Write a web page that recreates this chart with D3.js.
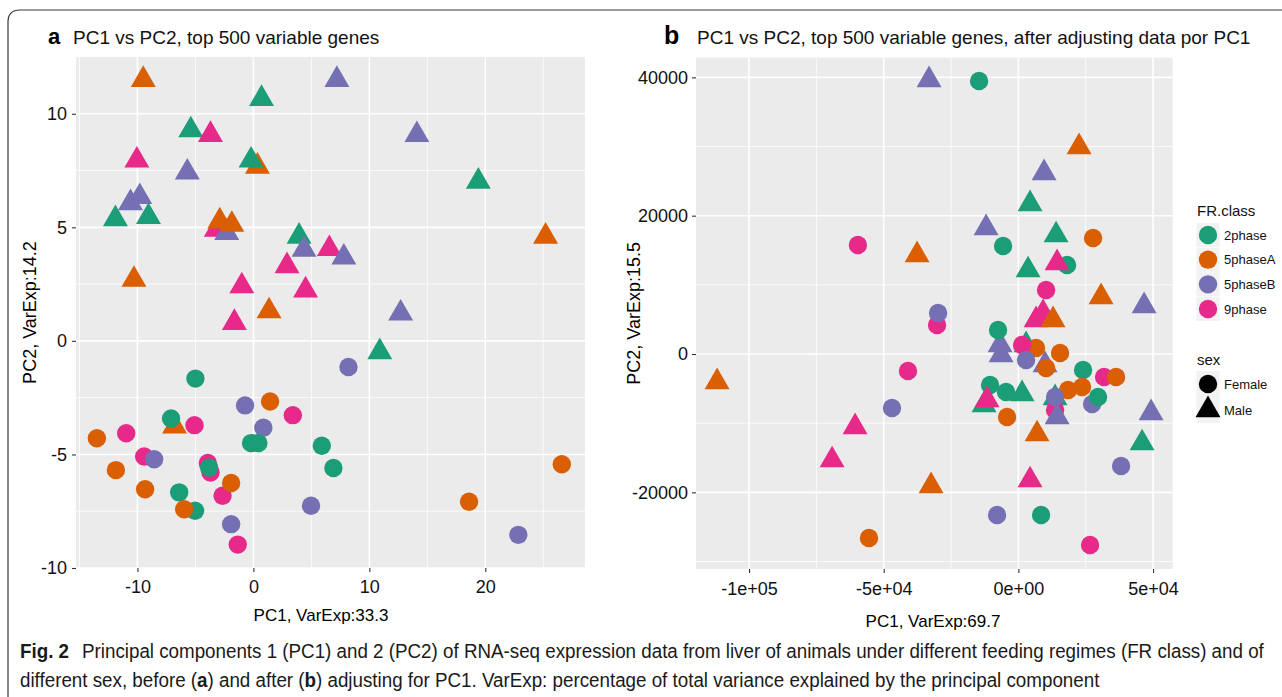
<!DOCTYPE html>
<html><head><meta charset="utf-8">
<script src="https://cdn.jsdelivr.net/npm/d3@7"></script>
<style>
body{margin:0;background:#fff;}
svg{display:block;font-family:"Liberation Sans",Arial,Helvetica,sans-serif;}
</style>
</head><body>
<svg id="c" width="1282" height="697"></svg>
<script>
// ---------- shared categories ----------
const classNames = ["2phase","5phaseA","5phaseB","9phase"];
const classColors = ["#1B9E77","#D95F02","#7570B3","#E7298A"];
const sexNames = ["Female","Male"];

// ---------- panel a : before adjusting ----------
const aTitle = "PC1 vs PC2, top 500 variable genes";
const aXLabel = "PC1, VarExp:33.3";
const aYLabel = "PC2, VarExp:14.2";
const aXDomain = [-15.3, 28.6];
const aYDomain = [-10, 12.5];
const aXTicks = [-10, 0, 10, 20];
const aXTickLabels = ["-10", "0", "10", "20"];
const aXMinor = [-15, -5, 5, 15, 25];
const aYTicks = [-10, -5, 0, 5, 10];
const aYTickLabels = ["-10", "-5", "0", "5", "10"];
const aYMinor = [-7.5, -2.5, 2.5, 7.5];
const aClass = ["5phaseA","5phaseB","2phase","2phase","9phase","5phaseB","9phase","5phaseA","2phase","5phaseB",
  "2phase","5phaseB","5phaseB","2phase","2phase","9phase","5phaseB","5phaseA","5phaseA","5phaseA",
  "2phase","5phaseB","9phase","5phaseB","9phase","5phaseA","9phase","9phase","5phaseA","5phaseB",
  "9phase","2phase","5phaseA",
  "2phase","5phaseB","5phaseB","5phaseA","9phase","2phase","9phase","5phaseB","9phase","5phaseA",
  "2phase","2phase","2phase","9phase","5phaseB","5phaseA","9phase","9phase","2phase","2phase",
  "5phaseA","5phaseA","9phase","5phaseA","2phase","2phase","5phaseA","5phaseA","5phaseB","5phaseB",
  "5phaseB","9phase"];
const aSex = ["Male","Male","Male","Male","Male","Male","Male","Male","Male","Male",
  "Male","Male","Male","Male","Male","Male","Male","Male","Male","Male",
  "Male","Male","Male","Male","Male","Male","Male","Male","Male","Male",
  "Male","Male","Male",
  "Female","Female","Female","Female","Female","Female","Female","Female","Female","Female",
  "Female","Female","Female","Female","Female","Female","Female","Female","Female","Female",
  "Female","Female","Female","Female","Female","Female","Female","Female","Female","Female",
  "Female","Female"];
const aPC1 = [-9.5, 7.2, 0.7, -5.4, -3.7, 14.1, -10.05, 0.35, -0.2, -5.7,
  19.4, -10.6, -9.8, -11.9, -9.05, -3.2, -2.3, -2.9, -1.86, 25.2,
  3.94, 4.37, 6.55, 7.8, 2.9, -10.3, -1.0, 4.5, 1.35, 12.7,
  -1.64, 10.9, -6.8,
  -5.0, 8.2, -0.72, 1.44, 3.4, -7.1, -5.08, 0.86, -10.97, -13.5,
  -0.2, 0.43, 5.9, -9.42, -8.56, -11.86, -3.93, -3.7, -3.82, 6.9,
  26.6, -9.34, -2.66, -1.92, -6.4, -5.03, -5.97, 18.6, 4.97, -1.92,
  22.85, -1.35];
const aPC2 = [11.5, 11.5, 10.66, 9.28, 9.08, 9.07, 7.95, 7.68, 7.95, 7.42,
  7.02, 6.07, 6.34, 5.37, 5.46, 4.9, 4.76, 5.27, 5.12, 4.6,
  4.6, 4.02, 4.05, 3.68, 3.3, 2.7, 2.41, 2.23, 1.31, 1.21,
  0.8, -0.49, -3.76,
  -1.66, -1.15, -2.84, -2.67, -3.27, -3.42, -3.71, -3.82, -4.07, -4.29,
  -4.5, -4.5, -4.62, -5.09, -5.21, -5.69, -5.38, -5.8, -5.58, -5.6,
  -5.43, -6.53, -6.82, -6.26, -6.67, -7.48, -7.41, -7.08, -7.26, -8.07,
  -8.54, -8.97];

// ---------- panel b : after adjusting ----------
const bTitle = "PC1 vs PC2, top 500 variable genes, after adjusting data por PC1";
const bXLabel = "PC1, VarExp:69.7";
const bYLabel = "PC2, VarExp:15.5";
const bXDomain = [-119700, 57300];
const bYDomain = [-31080, 42840];
const bXTicks = [-100000, -50000, 0, 50000];
const bXTickLabels = ["-1e+05", "-5e+04", "0e+00", "5e+04"];
const bXMinor = [-75000, -25000, 25000];
const bYTicks = [-20000, 0, 20000, 40000];
const bYTickLabels = ["-20000", "0", "20000", "40000"];
const bYMinor = [-30000, -10000, 10000, 30000];
const bClass = ["5phaseB","5phaseA","5phaseB","2phase","5phaseB","2phase","5phaseA","2phase","2phase","9phase",
  "5phaseA","5phaseB","9phase","9phase","5phaseA","9phase","2phase","5phaseB","5phaseB","5phaseB",
  "2phase","2phase","5phaseA","5phaseB","2phase","5phaseA","9phase","9phase","5phaseA","9phase",
  "2phase","2phase","9phase","5phaseA","9phase","5phaseB","2phase","5phaseA","9phase","5phaseB",
  "5phaseA","5phaseA","2phase","9phase","5phaseA","2phase","2phase","9phase","2phase","5phaseA",
  "5phaseA","9phase","5phaseB","5phaseB","5phaseB","2phase","5phaseA","5phaseB","9phase","5phaseB",
  "5phaseB","2phase","5phaseA","9phase"];
const bSex = ["Male","Male","Male","Male","Male","Male","Male","Male","Female","Male",
  "Male","Male","Male","Male","Male","Female","Male","Male","Male","Male",
  "Male","Male","Male","Male","Male","Male","Male","Male","Male","Male",
  "Female","Female","Female","Female","Female","Female","Female","Female","Female","Female",
  "Female","Female","Female","Female","Female","Female","Male","Male","Female","Female",
  "Female","Female","Female","Male","Female","Female","Female","Female","Female","Female",
  "Female","Female","Female","Female"];
const bPC1 = [-33160, 22540, 9540, 4340, -11990, 14000, -37610, 3600, 18080, 14370,
  30710, 46680, 6570, 9170, 12880, 10290, 2860, -6800, -6420, 9910,
  1370, 13630, 6940, 49270, 45930, -111870, -60630, -69170, -32420, 4340,
  -14590, -5680, -59590, 27740, -30190, -29810, -7540, 6570, 1370, 2860,
  15480, 10290, 24020, 31820, 36280, -10510, -12740, -11620, -4570, 18450,
  23650, 13630, 13630, 14370, 27370, 29590, -4200, -46930, -40990, 38130,
  -7910, 8430, -55470, 26620];
const bPC2 = [39610, 29930, 26170, 21690, 18220, 17200, 14310, 12140, 12870, 13160,
  8240, 6940, 4920, 5930, 4920, 9250, 1300, 1300, -140, -1590,
  -5780, -6360, -11570, -8530, -12870, -4050, -10550, -15330, -19080, -18220,
  39470, 15610, 15760, 16770, 4190, 5930, 3470, 870, 1300, -870,
  140, -2020, -2310, -3330, -3330, -4480, -7370, -6650, -5490, -5200,
  -4770, -8100, -6220, -9110, -7230, -6220, -9110, -7810, -2460, -16190,
  -23280, -23280, -26600, -27610];

// ---------- caption ----------
const captionLead = "Fig. 2";
const captionLine1 = "Principal components 1 (PC1) and 2 (PC2) of RNA-seq expression data from liver of animals under different feeding regimes (FR class) and of";
const captionLine2 = [["different sex, before (", false], ["a", true], [") and after (", false], ["b", true], [") adjusting for PC1. VarExp: percentage of total variance explained by the principal component", false]];

// ================= drawing =================
const svg = d3.select("#c");
svg.append("rect").attr("width", 1282).attr("height", 697).attr("fill", "#fff");
svg.append("path").attr("d", "M8,697V22Q8,10 20,10H1282")
  .attr("fill", "none").attr("stroke", "#3a3a3a").attr("stroke-width", 1.2);

const color = d3.scaleOrdinal().domain(classNames).range(classColors);
const circlePath = d3.symbol(d3.symbolCircle, Math.PI * 9.2 * 9.2)();
const trianglePath = d3.symbol(d3.symbolTriangle, 270)();
const shapeFor = s => s === "Male" ? trianglePath : circlePath;

function drawPanel(p) {
  const x = d3.scaleLinear().domain(p.xDomain).range([p.left, p.right]);
  const y = d3.scaleLinear().domain(p.yDomain).range([p.bottom, p.top]);
  const g = svg.append("g");
  g.append("rect").attr("x", p.left).attr("y", p.top)
    .attr("width", p.right - p.left).attr("height", p.bottom - p.top).attr("fill", "#EBEBEB");
  const grid = g.append("g").attr("stroke", "#fff");
  grid.selectAll("line.vmin").data(p.xMinor).join("line").attr("class", "vmin")
    .attr("x1", d => x(d)).attr("x2", d => x(d)).attr("y1", p.top).attr("y2", p.bottom).attr("stroke-width", 0.8);
  grid.selectAll("line.hmin").data(p.yMinor).join("line").attr("class", "hmin")
    .attr("y1", d => y(d)).attr("y2", d => y(d)).attr("x1", p.left).attr("x2", p.right).attr("stroke-width", 0.8);
  grid.selectAll("line.vmaj").data(p.xTicks).join("line").attr("class", "vmaj")
    .attr("x1", d => x(d)).attr("x2", d => x(d)).attr("y1", p.top).attr("y2", p.bottom).attr("stroke-width", 1.6);
  grid.selectAll("line.hmaj").data(p.yTicks).join("line").attr("class", "hmaj")
    .attr("y1", d => y(d)).attr("y2", d => y(d)).attr("x1", p.left).attr("x2", p.right).attr("stroke-width", 1.6);

  g.append("g").selectAll("path").data(d3.range(p.pc1.length)).join("path")
    .attr("transform", i => `translate(${x(p.pc1[i])},${y(p.pc2[i])})`)
    .attr("d", i => shapeFor(p.sex[i]))
    .attr("fill", i => color(p.cls[i]));

  const xa = g.append("g").attr("transform", `translate(0,${p.bottom})`)
    .call(d3.axisBottom(x).tickValues(p.xTicks).tickFormat((d, i) => p.xTickLabels[i]).tickSize(4).tickPadding(p.xPad));
  const ya = g.append("g").attr("transform", `translate(${p.left},0)`)
    .call(d3.axisLeft(y).tickValues(p.yTicks).tickFormat((d, i) => p.yTickLabels[i]).tickSize(4).tickPadding(p.yPad));
  [xa, ya].forEach(a => {
    a.select(".domain").remove();
    a.attr("font-family", null).attr("font-size", 18);
    a.selectAll(".tick line").attr("stroke", "#333").attr("stroke-width", 1.1);
    a.selectAll(".tick text").attr("fill", "#111");
  });

  // axis titles
  g.append("text").attr("x", p.xTitleX).attr("y", p.xTitleY)
    .attr("text-anchor", "middle").attr("font-size", 17).attr("fill", "#000").text(p.xLabel);
  g.append("text").attr("transform", `translate(${p.yTitleX},${(p.top + p.bottom) / 2}) rotate(-90)`)
    .attr("text-anchor", "middle").attr("font-size", 18).attr("fill", "#000").text(p.yLabel);
  // plot title
  g.append("text").attr("x", p.tagX).attr("y", 44).attr("font-size", p.tagSize).attr("font-weight", "bold")
    .attr("fill", "#000").text(p.tag);
  g.append("text").attr("x", p.titleX).attr("y", 44).attr("font-size", 19).attr("fill", "#111").text(p.title);
}

drawPanel({left: 76, right: 585, top: 57, bottom: 568,
  xDomain: aXDomain, yDomain: aYDomain, xTicks: aXTicks, xTickLabels: aXTickLabels, xMinor: aXMinor,
  yTicks: aYTicks, yTickLabels: aYTickLabels, yMinor: aYMinor,
  pc1: aPC1, pc2: aPC2, cls: aClass, sex: aSex, xPad: 8, yPad: 5,
  xLabel: aXLabel, yLabel: aYLabel, xTitleX: 321, xTitleY: 621, yTitleX: 36,
  tag: "a", tagX: 48, tagSize: 22, titleX: 73, title: aTitle});

drawPanel({left: 696, right: 1172.7, top: 57.7, bottom: 569,
  xDomain: bXDomain, yDomain: bYDomain, xTicks: bXTicks, xTickLabels: bXTickLabels, xMinor: bXMinor,
  yTicks: bYTicks, yTickLabels: bYTickLabels, yMinor: bYMinor,
  pc1: bPC1, pc2: bPC2, cls: bClass, sex: bSex, xPad: 9, yPad: 4,
  xLabel: bXLabel, yLabel: bYLabel, xTitleX: 933, xTitleY: 627, yTitleX: 640,
  tag: "b", tagX: 664, tagSize: 25, titleX: 697, title: bTitle});

// ---------- legend ----------
const lg = svg.append("g");
lg.append("text").attr("x", 1197).attr("y", 216).attr("font-size", 15).attr("fill", "#111").text("FR.class");
const keyY = d3.scalePoint().domain(classNames).range([235, 309]);
classNames.forEach(c => {
  lg.append("rect").attr("x", 1196.5).attr("y", keyY(c) - 12).attr("width", 23).attr("height", 24).attr("fill", "#F2F2F2");
  lg.append("path").attr("transform", `translate(1208,${keyY(c)})`).attr("d", circlePath).attr("fill", color(c));
  lg.append("text").attr("x", 1224).attr("y", keyY(c)).attr("dy", "0.36em").attr("font-size", 13).attr("fill", "#111").text(c);
});
lg.append("text").attr("x", 1197).attr("y", 365).attr("font-size", 15).attr("fill", "#111").text("sex");
const sexY = d3.scalePoint().domain(sexNames).range([384, 410]);
sexNames.forEach(s => {
  lg.append("rect").attr("x", 1196.5).attr("y", sexY(s) - 13).attr("width", 23).attr("height", 26).attr("fill", "#F2F2F2");
  lg.append("path").attr("transform", `translate(1208,${sexY(s)})`).attr("d", shapeFor(s)).attr("fill", "#000");
  lg.append("text").attr("x", 1224).attr("y", sexY(s)).attr("dy", "0.36em").attr("font-size", 13).attr("fill", "#111").text(s);
});

// ---------- caption (one horizontal compression for the whole caption) ----------
const capFont = '"Liberation Sans",Arial,sans-serif';
const lead = svg.append("text").attr("x", 0).attr("y", 658).attr("font-family", capFont)
  .attr("font-size", 21).attr("font-weight", "bold").attr("fill", "#1a1a1a").text(captionLead);
const l1 = svg.append("text").attr("x", 0).attr("y", 658).attr("font-family", capFont)
  .attr("font-size", 21).attr("fill", "#1a1a1a").text(captionLine1);
const l2 = svg.append("text").attr("x", 0).attr("y", 687).attr("font-family", capFont)
  .attr("font-size", 21).attr("fill", "#1a1a1a");
captionLine2.forEach(([t, b]) => l2.append("tspan").attr("font-weight", b ? "bold" : null).text(t));
const sq = 1183 / l1.node().getComputedTextLength();
lead.attr("transform", `translate(20,0) scale(${sq},1)`);
l1.attr("transform", `translate(82,0) scale(${sq},1)`);
l2.attr("transform", `translate(20,0) scale(${sq},1)`);
</script>
</body></html>
